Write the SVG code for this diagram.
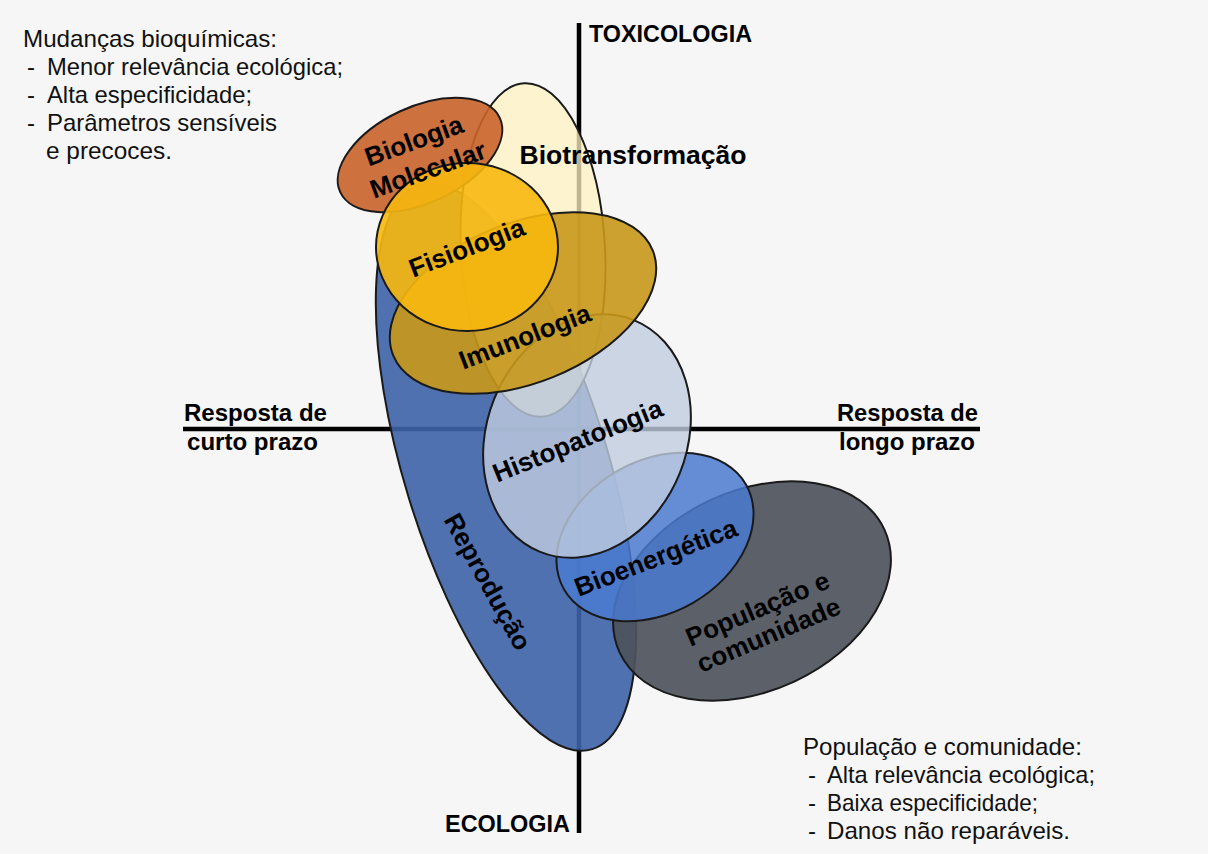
<svg xmlns="http://www.w3.org/2000/svg" width="1208" height="854" viewBox="0 0 1208 854">
<style>
.ax{stroke:#000;stroke-width:4.5;fill:none}
.sh{stroke:#1a1a1a;stroke-width:2}
.lb{font-family:"Liberation Sans",Arial,sans-serif;font-weight:bold;font-size:24px;fill:#000}
.sl{font-family:"Liberation Sans",Arial,sans-serif;font-weight:bold;font-size:26px;fill:#000;text-anchor:middle}
.tx{font-family:"Liberation Sans",Arial,sans-serif;font-size:24px;fill:#111}
</style>
<rect x="0" y="0" width="1208" height="854" fill="#f6f6f6"/>
<g id="connectors">
<line class="ax" x1="579" y1="23" x2="579" y2="833"/>
<line class="ax" x1="183" y1="429" x2="980" y2="429"/>
</g>
<g id="reproducao">
<ellipse class="sh" cx="506" cy="467" rx="102" ry="295" transform="rotate(-17 506 467)" fill="#3d63a8" fill-opacity="0.9"/>
</g>
<g id="biotransformacao">
<ellipse class="sh" cx="533" cy="250" rx="72" ry="167" transform="rotate(-3 533 250)" fill="#fff1c2" fill-opacity="0.75"/>
</g>
<g id="biologia-molecular">
<ellipse class="sh" cx="420" cy="155" rx="88" ry="48" transform="rotate(-25 420 155)" fill="#c9632a" fill-opacity="0.9"/>
</g>
<g id="populacao">
<ellipse class="sh" cx="752" cy="591" rx="146" ry="100" transform="rotate(-25 752 591)" fill="#4e525b" fill-opacity="0.92"/>
</g>
<g id="bioenergetica">
<ellipse class="sh" cx="655" cy="537" rx="105" ry="76" transform="rotate(-30 655 537)" fill="#4a7ad0" fill-opacity="0.85"/>
</g>
<g id="histopatologia">
<ellipse class="sh" cx="587" cy="436" rx="100" ry="125" transform="rotate(22 587 436)" fill="#c0cde0" fill-opacity="0.8"/>
</g>
<g id="imunologia">
<ellipse class="sh" cx="523" cy="303" rx="140" ry="80" transform="rotate(-22 523 303)" fill="#c8981a" fill-opacity="0.9"/>
</g>
<g id="fisiologia">
<ellipse class="sh" cx="467" cy="247" rx="91" ry="84" fill="#f7b80e" fill-opacity="0.9"/>
</g>
<g id="labels">
<text class="sl" transform="translate(417,149) rotate(-20)">Biologia</text>
<text class="sl" transform="translate(431,178) rotate(-20)">Molecular</text>
<text class="sl" x="633" y="164" textLength="227" lengthAdjust="spacingAndGlyphs">Biotransformação</text>
<text class="sl" transform="translate(470,256) rotate(-21)">Fisiologia</text>
<text class="sl" transform="translate(528,345) rotate(-21)">Imunologia</text>
<text class="sl" transform="translate(581,449) rotate(-22)">Histopatologia</text>
<text class="sl" transform="translate(480,586) rotate(61)">Reprodução</text>
<text class="sl" transform="translate(659,566) rotate(-21)">Bioenergética</text>
<text class="sl" transform="translate(761,617) rotate(-23)">População e</text>
<text class="sl" transform="translate(772,643) rotate(-23)">comunidade</text>
</g>
<g id="axis-labels">
<text class="lb" x="589" y="42" textLength="163" lengthAdjust="spacingAndGlyphs">TOXICOLOGIA</text>
<text class="lb" x="445" y="832" textLength="125" lengthAdjust="spacingAndGlyphs">ECOLOGIA</text>
<text class="lb" x="184" y="421" textLength="143" lengthAdjust="spacingAndGlyphs">Resposta de</text>
<text class="lb" x="187" y="450" textLength="131" lengthAdjust="spacingAndGlyphs">curto prazo</text>
<text class="lb" x="837" y="421" textLength="141" lengthAdjust="spacingAndGlyphs">Resposta de</text>
<text class="lb" x="839" y="450" textLength="136" lengthAdjust="spacingAndGlyphs">longo prazo</text>
</g>
<g id="note-top">
<text class="tx" x="23" y="47" textLength="254" lengthAdjust="spacingAndGlyphs">Mudanças bioquímicas:</text>
<text class="tx" y="75"><tspan x="27">-</tspan><tspan x="47" textLength="296" lengthAdjust="spacingAndGlyphs">Menor relevância ecológica;</tspan></text>
<text class="tx" y="103"><tspan x="27">-</tspan><tspan x="47" textLength="205" lengthAdjust="spacingAndGlyphs">Alta especificidade;</tspan></text>
<text class="tx" y="131"><tspan x="27">-</tspan><tspan x="47" textLength="230" lengthAdjust="spacingAndGlyphs">Parâmetros sensíveis</tspan></text>
<text class="tx" x="46" y="159" textLength="126" lengthAdjust="spacingAndGlyphs">e precoces.</text>
</g>
<g id="note-bottom">
<text class="tx" x="803" y="755" textLength="279" lengthAdjust="spacingAndGlyphs">População e comunidade:</text>
<text class="tx" y="783"><tspan x="808">-</tspan><tspan x="827" textLength="268" lengthAdjust="spacingAndGlyphs">Alta relevância ecológica;</tspan></text>
<text class="tx" y="811"><tspan x="808">-</tspan><tspan x="827" textLength="211" lengthAdjust="spacingAndGlyphs">Baixa especificidade;</tspan></text>
<text class="tx" y="839"><tspan x="808">-</tspan><tspan x="827" textLength="243" lengthAdjust="spacingAndGlyphs">Danos não reparáveis.</tspan></text>
</g>
</svg>
